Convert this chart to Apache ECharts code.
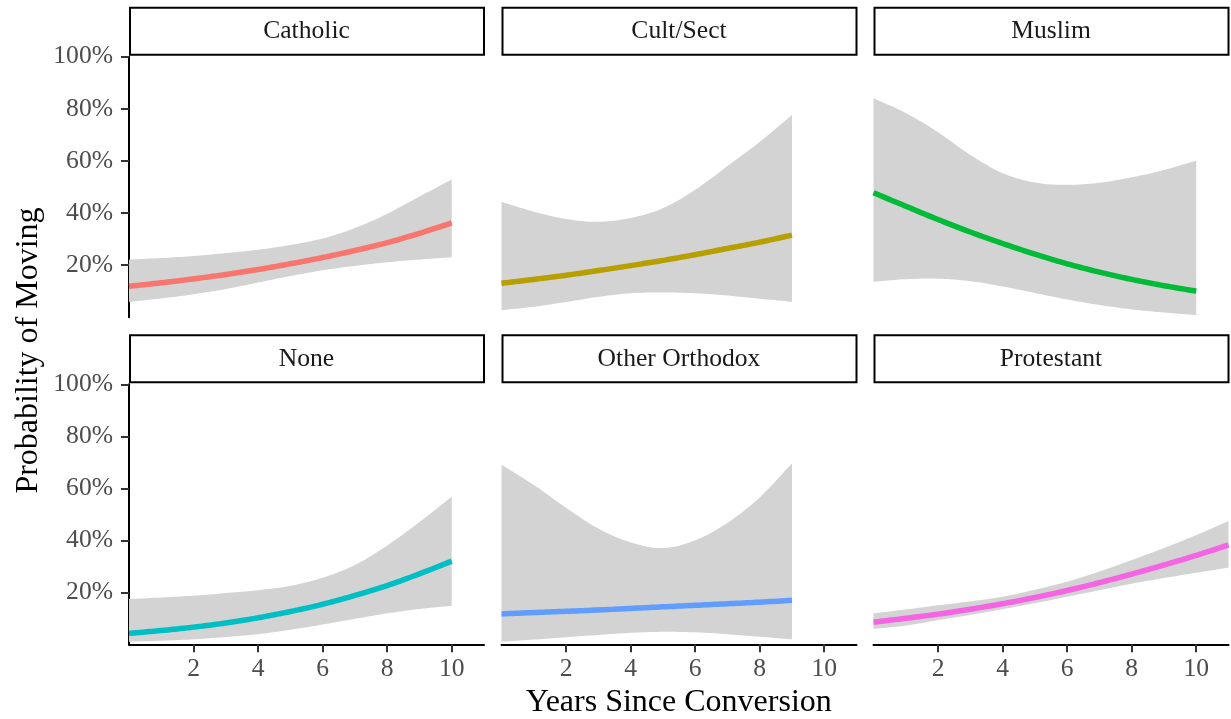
<!DOCTYPE html>
<html>
<head>
<meta charset="utf-8">
<script src="https://cdn.jsdelivr.net/npm/echarts@6/dist/echarts.min.js"></script>
<style>html,body{margin:0;padding:0;background:#fff}#c{width:1231px;height:719px}</style>
</head>
<body>
<div id="c"></div>
<script>
// ---------- data ----------
const panelNames = ['Catholic', 'Cult/Sect', 'Muslim', 'None', 'Other Orthodox', 'Protestant'];
const panelColors = ['#F8766D', '#B79F00', '#00BA38', '#00BFC4', '#619CFF', '#F564E3'];

const years0to10 = [0, 1, 2, 3, 4, 5, 6, 7, 8, 9, 10];
const years0to9  = [0, 1, 2, 3, 4, 5, 6, 7, 8, 9];
const years0to11 = [0, 1, 2, 3, 4, 5, 6, 7, 8, 9, 10, 11];

const catholicFit  = [0.119, 0.132, 0.147, 0.164, 0.183, 0.205, 0.229, 0.256, 0.286, 0.322, 0.362];
const catholicLow  = [0.059, 0.072, 0.088, 0.108, 0.133, 0.158, 0.180, 0.197, 0.211, 0.221, 0.230];
const catholicHigh = [0.221, 0.227, 0.235, 0.246, 0.259, 0.277, 0.302, 0.342, 0.397, 0.463, 0.529];

const cultFit  = [0.130, 0.145, 0.161, 0.179, 0.198, 0.218, 0.240, 0.264, 0.288, 0.315];
const cultLow  = [0.027, 0.040, 0.058, 0.078, 0.092, 0.095, 0.092, 0.083, 0.071, 0.059];
const cultHigh = [0.443, 0.405, 0.377, 0.366, 0.381, 0.418, 0.489, 0.580, 0.673, 0.776];

const muslimFit  = [0.478, 0.426, 0.375, 0.327, 0.283, 0.242, 0.205, 0.173, 0.145, 0.121, 0.100];
const muslimLow  = [0.136, 0.146, 0.148, 0.138, 0.118, 0.093, 0.068, 0.047, 0.030, 0.018, 0.008];
const muslimHigh = [0.840, 0.784, 0.710, 0.623, 0.553, 0.517, 0.508, 0.516, 0.537, 0.565, 0.601];

const noneFit  = [0.042, 0.053, 0.066, 0.082, 0.102, 0.126, 0.154, 0.188, 0.226, 0.271, 0.320];
const noneLow  = [0.010, 0.014, 0.019, 0.028, 0.039, 0.056, 0.076, 0.098, 0.119, 0.136, 0.148];
const noneHigh = [0.174, 0.180, 0.187, 0.197, 0.208, 0.225, 0.256, 0.305, 0.380, 0.470, 0.568];

const orthoFit  = [0.117, 0.122, 0.127, 0.132, 0.138, 0.144, 0.150, 0.156, 0.162, 0.169];
const orthoLow  = [0.010, 0.018, 0.027, 0.036, 0.044, 0.048, 0.046, 0.039, 0.029, 0.019];
const orthoHigh = [0.690, 0.613, 0.525, 0.445, 0.392, 0.370, 0.400, 0.467, 0.565, 0.696];

const protFit  = [0.085, 0.100, 0.116, 0.135, 0.156, 0.180, 0.207, 0.237, 0.270, 0.305, 0.342, 0.382];
const protLow  = [0.059, 0.072, 0.093, 0.113, 0.135, 0.158, 0.183, 0.208, 0.233, 0.255, 0.275, 0.295];
const protHigh = [0.119, 0.134, 0.150, 0.165, 0.183, 0.210, 0.241, 0.280, 0.324, 0.370, 0.420, 0.474];

const yTickValues = [0.2, 0.4, 0.6, 0.8, 1.0];
const xTickValues = [2, 4, 6, 8, 10];
const xTitle = 'Years Since Conversion';
const yTitle = 'Probability of Moving';

// ---------- layout ----------
const panels = [
  {x: years0to10, fit: catholicFit, low: catholicLow, high: catholicHigh},
  {x: years0to9,  fit: cultFit,     low: cultLow,     high: cultHigh},
  {x: years0to10, fit: muslimFit,   low: muslimLow,   high: muslimHigh},
  {x: years0to10, fit: noneFit,     low: noneLow,     high: noneHigh},
  {x: years0to9,  fit: orthoFit,    low: orthoLow,    high: orthoHigh},
  {x: years0to11, fit: protFit,     low: protLow,     high: protHigh}
];
const colLeft = [129, 501.5, 873.5];
const panelW = 355;
const rowTop = [56.7, 384.3];
const rowH = [260.5, 260];
const FONT = '"Liberation Serif", "Times New Roman", serif';
const tickFont = 25.6;

// Catmull-Rom spline through pixel points (rendering only)
function spline(pts, steps) {
  const out = [];
  const n = pts.length;
  for (let i = 0; i < n - 1; i++) {
    const p0 = pts[Math.max(0, i - 1)], p1 = pts[i], p2 = pts[i + 1], p3 = pts[Math.min(n - 1, i + 2)];
    for (let s = 0; s < steps; s++) {
      const t = s / steps, t2 = t * t, t3 = t2 * t;
      const f = (a, b, c, d) => 0.5 * ((2 * b) + (-a + c) * t + (2 * a - 5 * b + 4 * c - d) * t2 + (-a + 3 * b - 3 * c + d) * t3);
      out.push([f(p0[0], p1[0], p2[0], p3[0]), f(p0[1], p1[1], p2[1], p3[1])]);
    }
  }
  out.push(pts[n - 1]);
  return out;
}

const grids = [], xAxes = [], yAxes = [], series = [], graphics = [];
panels.forEach((p, i) => {
  const r = Math.floor(i / 3), c = i % 3;
  grids.push({left: colLeft[c], top: rowTop[r], width: panelW, height: rowH[r], containLabel: false});
  const showX = r === 1, showY = c === 0;
  xAxes.push({
    type: 'value', gridIndex: i, min: 0, max: 11,
    axisLine: {show: showX, onZero: false, lineStyle: {color: '#000', width: 2}},
    axisTick: {show: showX, customValues: xTickValues, length: 8, lineStyle: {color: '#333', width: 2}},
    axisLabel: {show: showX, customValues: xTickValues, margin: 12, color: '#4D4D4D', fontFamily: FONT, fontSize: tickFont},
    splitLine: {show: false}
  });
  yAxes.push({
    type: 'value', gridIndex: i, min: 0, max: 1,
    axisLine: {show: showY, onZero: false, lineStyle: {color: '#000', width: 2}},
    axisTick: {show: showY, customValues: yTickValues, length: 8, lineStyle: {color: '#333', width: 2}},
    axisLabel: {show: showY, customValues: yTickValues, margin: 16, color: '#4D4D4D', fontFamily: FONT, fontSize: tickFont,
      formatter: v => Math.round(v * 100) + '%'},
    splitLine: {show: false}
  });
  // confidence ribbon
  series.push({
    type: 'custom', xAxisIndex: i, yAxisIndex: i, z: 1, silent: true, animation: false,
    data: p.x.map((x, k) => [x, p.low[k], p.high[k]]),
    encode: {x: 0, y: [1, 2]},
    renderItem: (params, api) => {
      if (params.dataIndex !== 0) return null;
      const top = spline(p.x.map((x, k) => api.coord([x, p.high[k]])), 10);
      const bot = spline(p.x.map((x, k) => api.coord([x, p.low[k]])), 10).reverse();
      return {type: 'polygon', shape: {points: top.concat(bot)}, style: {fill: '#D3D3D3', stroke: null}};
    }
  });
  // fitted line
  series.push({
    type: 'custom', xAxisIndex: i, yAxisIndex: i, z: 3, silent: true, animation: false,
    data: p.x.map((x, k) => [x, p.fit[k]]),
    encode: {x: 0, y: 1},
    renderItem: (params, api) => {
      if (params.dataIndex !== 0) return null;
      const pts = spline(p.x.map((x, k) => api.coord([x, p.fit[k]])), 10);
      return {type: 'polyline', shape: {points: pts}, style: {stroke: panelColors[i], lineWidth: 5.5, fill: null, lineCap: 'butt', lineJoin: 'round'}};
    }
  });
  // strip
  const sTop = rowTop[r] - 49;
  graphics.push({type: 'rect', z: 10, shape: {x: colLeft[c] + 1, y: sTop, width: panelW - 1, height: 47},
    style: {fill: '#fff', stroke: '#000', lineWidth: 2}});
  graphics.push({type: 'text', z: 11, x: colLeft[c] + panelW / 2, y: sTop + 24,
    style: {text: panelNames[i], fill: '#1A1A1A', font: tickFont + 'px ' + FONT, textAlign: 'center', textVerticalAlign: 'middle'}});
});
graphics.push({type: 'text', x: (colLeft[0] + colLeft[2] + panelW) / 2, y: 703,
  style: {text: xTitle, fill: '#000', font: '32px ' + FONT, textAlign: 'center', textVerticalAlign: 'middle'}});
graphics.push({type: 'text', x: 29, y: (rowTop[0] + rowTop[1] + rowH[1]) / 2, rotation: Math.PI / 2,
  style: {text: yTitle, fill: '#000', font: '32px ' + FONT, textAlign: 'center', textVerticalAlign: 'middle'}});

const chart = echarts.init(document.getElementById('c'), null, {renderer: 'canvas'});
chart.setOption({
  animation: false,
  backgroundColor: '#fff',
  grid: grids, xAxis: xAxes, yAxis: yAxes, series: series, graphic: graphics
});
</script>
</body>
</html>
